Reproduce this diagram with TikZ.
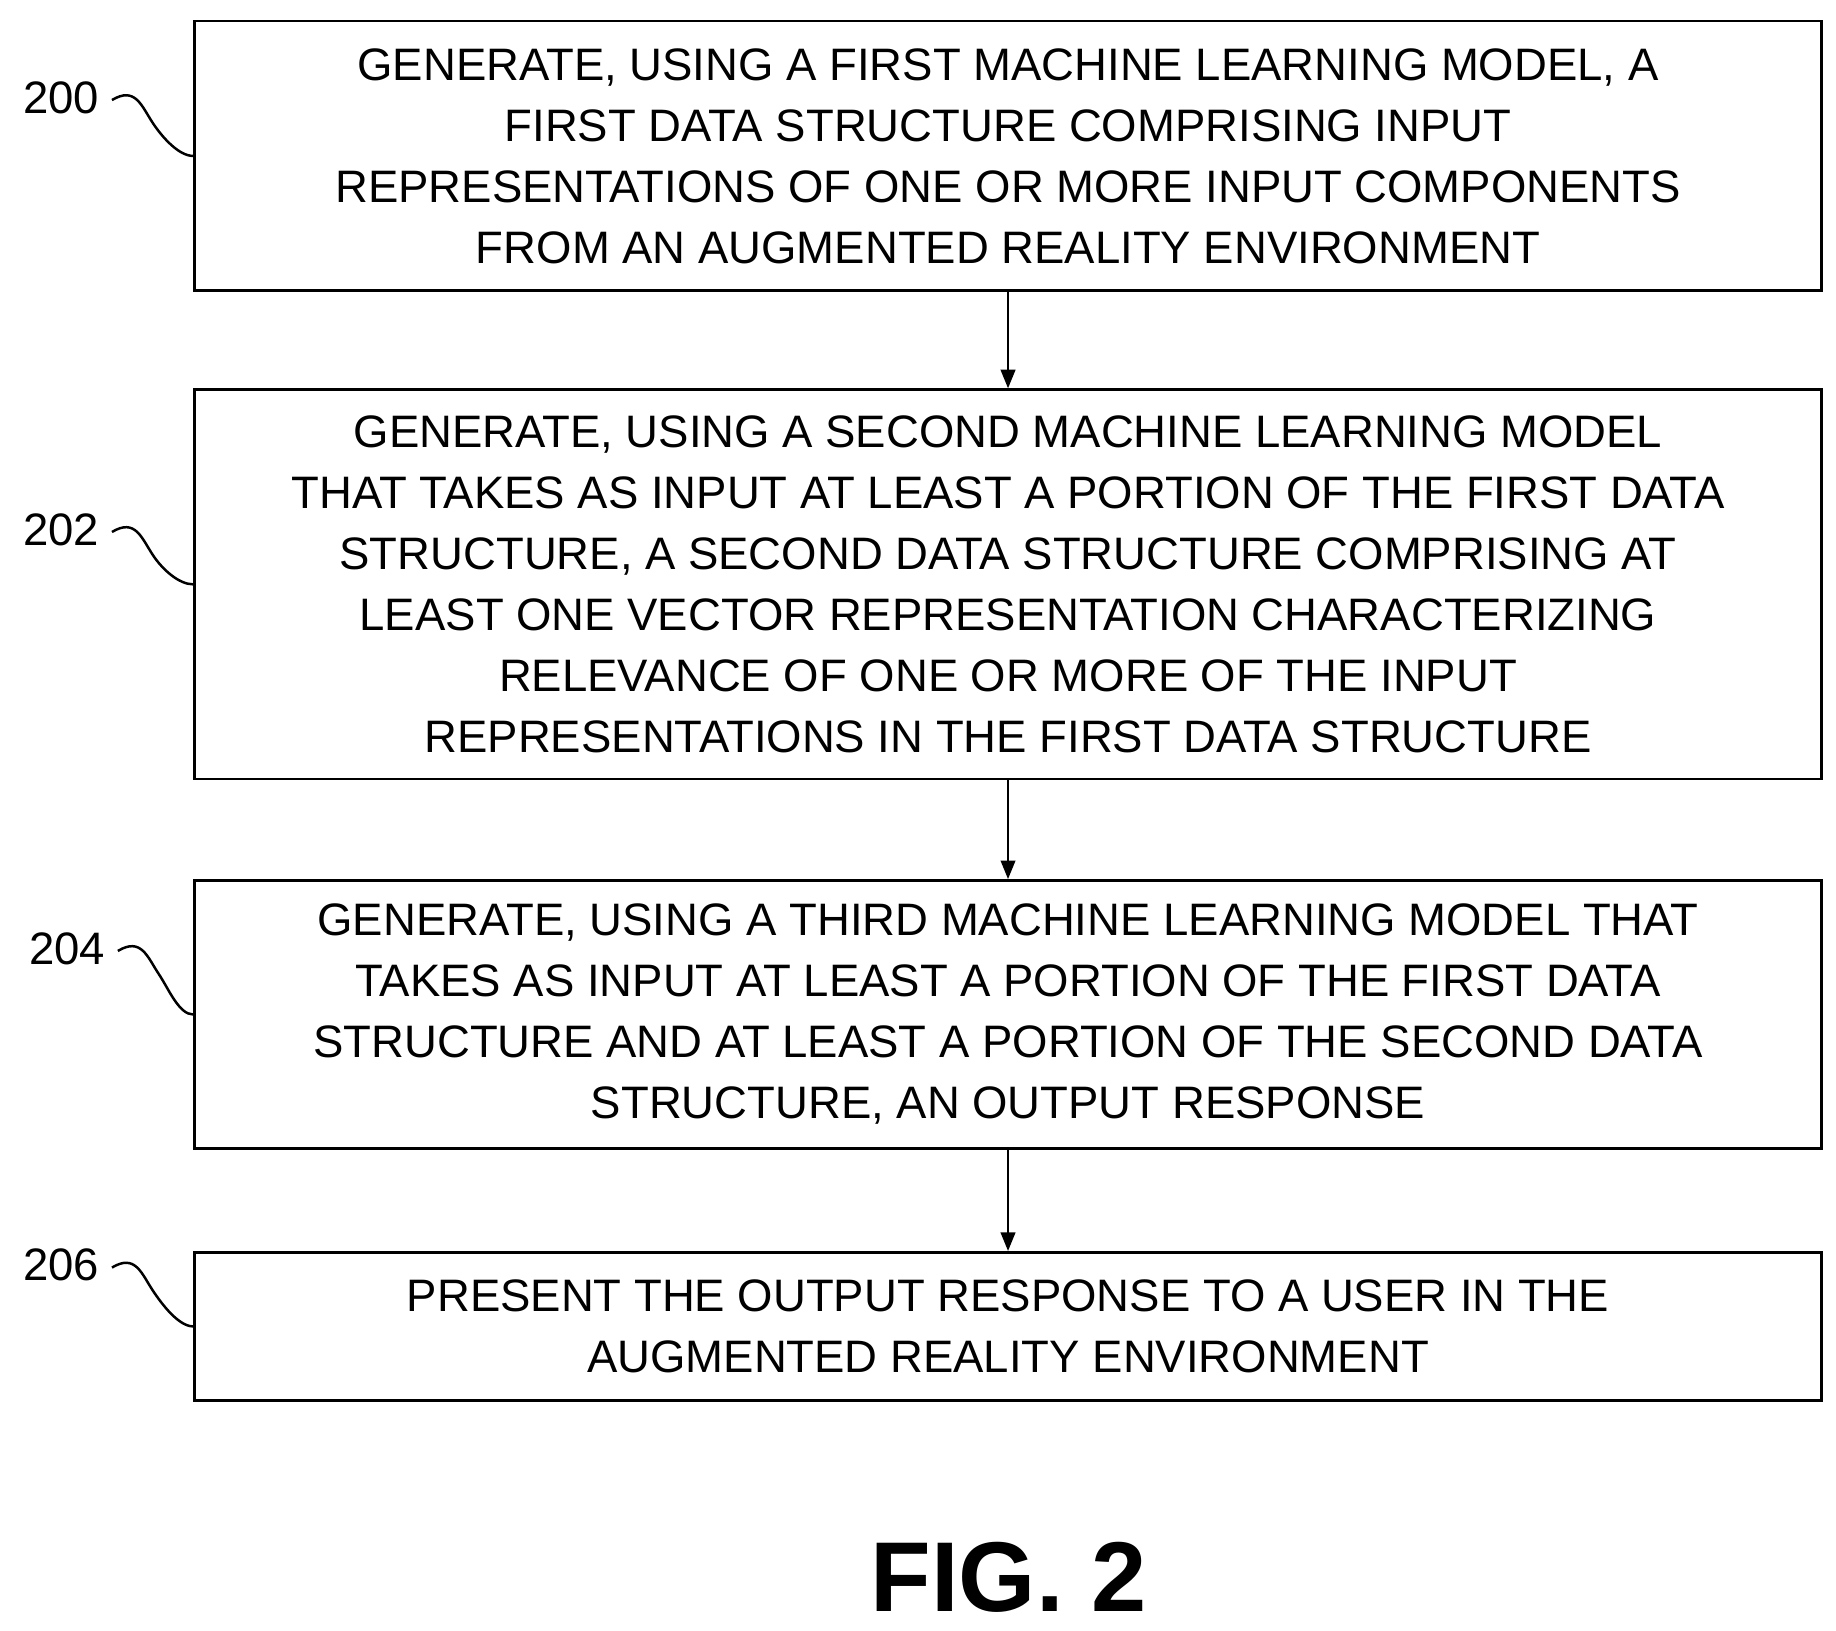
\documentclass[tikz,border=0pt]{standalone}
\usepackage{fontspec}
\setmainfont{Liberation Sans}
\usetikzlibrary{arrows.meta,positioning}

\begin{document}
\begin{tikzpicture}[x=0.02cm,y=-0.02cm,line width=1.2pt,>={Triangle[length=9pt,width=7pt]}]
   \tikzstyle{stepbox}=[draw,minimum width=27.66cm,inner sep=0pt,align=center,
                     font=\fontsize{22}{29.5}\selectfont]
   \tikzstyle{ref}=[font=\fontsize{22}{26}\selectfont]

   \useasboundingbox (0,0) rectangle (1560,1385);

   \node[stepbox,minimum height=4.58cm] (S0) at (856.5,132.5)
     {GENERATE, USING A FIRST MACHINE LEARNING MODEL, A\\
      FIRST DATA STRUCTURE COMPRISING INPUT\\
      REPRESENTATIONS OF ONE OR MORE INPUT COMPONENTS\\
      FROM AN AUGMENTED REALITY ENVIRONMENT};
   \node[stepbox,minimum height=6.62cm] (S1) at (856.5,496.5)
     {GENERATE, USING A SECOND MACHINE LEARNING MODEL\\
      THAT TAKES AS INPUT AT LEAST A PORTION OF THE FIRST DATA\\
      STRUCTURE, A SECOND DATA STRUCTURE COMPRISING AT\\
      LEAST ONE VECTOR REPRESENTATION CHARACTERIZING\\
      RELEVANCE OF ONE OR MORE OF THE INPUT\\
      REPRESENTATIONS IN THE FIRST DATA STRUCTURE};
   \node[stepbox,minimum height=4.56cm] (S2) at (856.5,862)
     {GENERATE, USING A THIRD MACHINE LEARNING MODEL THAT\\
      TAKES AS INPUT AT LEAST A PORTION OF THE FIRST DATA\\
      STRUCTURE AND AT LEAST A PORTION OF THE SECOND DATA\\
      STRUCTURE, AN OUTPUT RESPONSE};
   \node[stepbox,minimum height=2.52cm] (S3) at (856.5,1127)
     {PRESENT THE OUTPUT RESPONSE TO A USER IN THE\\
      AUGMENTED REALITY ENVIRONMENT};

   \node[ref] (L0) at (52,83)   {200};
   \node[ref] (L1) at (52,450)  {202};
   \node[ref] (L2) at (57,806)  {204};
   \node[ref] (L3) at (52,1075) {206};

   \node[font=\fontsize{48}{50}\selectfont\bfseries] (F) at (857,1340) {FIG. 2};

   \path[->]
         (S0) edge (S1)
         (S1) edge (S2)
         (S2) edge (S3);

   % reference squiggles
   \foreach \l/\s in {L0/S0,L1/S1,L2/S2,L3/S3}
     \draw (\l.east) ++(4,2) .. controls +(20,-12) and +(-10,-15) .. ++(35,20)
                     .. controls +(8,12) and +(-12,0) .. (\s.west);
\end{tikzpicture}
\end{document}
